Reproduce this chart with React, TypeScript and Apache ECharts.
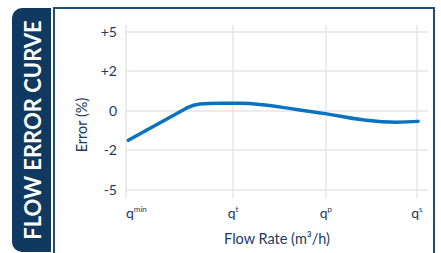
import React, { useEffect, useRef } from "react";
import * as echarts from "echarts";

// x positions of the flow-rate ticks (qmin = 0, qs = 100)
const xTickValues = [0, 36.8, 68.7, 100];
const xTickSubs = ["min", "t", "p", "s"];
// y axis: evenly spaced tick slots with non-linear labels
const yTickValues = [0, 1, 2, 3, 4];
const yTickLabels = ["-5", "-2", "0", "+2", "+5"];
// error curve (x in flow units, y in tick-slot units)
// straight rising part, qmin to the knee
const riseX = [0.8, 20.9];
const riseY = [1.24, 2.06];
// smooth part, from the knee to qs
const curveX = [20.9, 25.4, 32.3, 39.2, 47.1, 58.7, 69.0, 81.4, 93.0, 100.4];
const curveY = [2.06, 2.16, 2.18, 2.18, 2.14, 2.02, 1.91, 1.76, 1.70, 1.72];

const TITLE = "FLOW ERROR CURVE";
const Y_NAME = "Error (%)";
const X_NAME = "Flow Rate (m³/h)";

const NAVY = "#1d3b5f";
const LINE = "#0a72c0";
const FONT = "Lato, 'Open Sans', sans-serif";

export default function App() {
  const ref = useRef<HTMLDivElement>(null);
  useEffect(() => {
    if (!ref.current) return;
    const chart = echarts.init(ref.current, undefined, { renderer: "svg" });
    const rise = riseX.map((x, i) => [x, riseY[i]]);
    const curve = curveX.map((x, i) => [x, curveY[i]]);
    chart.setOption({
      animation: false,
      textStyle: { fontFamily: FONT },
      grid: { left: 126, right: 13, top: 25, bottom: 55, containLabel: false },
      xAxis: {
        type: "value",
        min: 0,
        max: 103.8,
        axisLine: { show: false },
        axisTick: { show: false },
        splitLine: { show: false },
        axisLabel: {
          customValues: xTickValues,
          margin: 7,
          alignMinLabel: "left",
          formatter: (v: number) => {
            const i = xTickValues.findIndex((t) => Math.abs(t - v) < 0.01);
            return i < 0 ? "" : "{q|q}{s|" + xTickSubs[i] + "}";
          },
          rich: {
            q: { fontSize: 14, color: NAVY, fontFamily: FONT, verticalAlign: "bottom" },
            s: { fontSize: 8, color: NAVY, fontFamily: FONT, verticalAlign: "top", padding: [0, 0, 6, 0] },
          },
        },
        name: X_NAME,
        nameLocation: "middle",
        nameGap: 33,
        nameTextStyle: { fontSize: 14.5, color: NAVY, fontFamily: FONT },
      },
      yAxis: {
        type: "value",
        min: -0.22,
        max: 4.16,
        axisLine: { show: false },
        axisTick: { show: false },
        splitLine: { show: false },
        axisLabel: {
          customValues: yTickValues,
          margin: 9,
          fontSize: 14,
          color: NAVY,
          fontFamily: FONT,
          formatter: (v: number) => {
            const i = yTickValues.findIndex((t) => Math.abs(t - v) < 0.01);
            return i < 0 ? "" : yTickLabels[i];
          },
        },
      },
      graphic: [
        {
          type: "rect",
          shape: { x: 54, y: 8, width: 380, height: 260 },
          style: { fill: "none", stroke: "#1f4c7a", lineWidth: 2 },
          silent: true,
        },
        {
          type: "rect",
          shape: { x: 12, y: 8, width: 39, height: 244, r: [10, 0, 0, 10] },
          style: { fill: "#0f3961" },
          silent: true,
        },
        {
          type: "text",
          x: 32,
          y: 130,
          rotation: Math.PI / 2,
          style: {
            text: TITLE,
            fill: "#ffffff",
            font: "bold 22px " + FONT,
            align: "center",
            verticalAlign: "middle",
          },
          silent: true,
        },
        {
          type: "text",
          x: 81,
          y: 125,
          rotation: Math.PI / 2,
          style: {
            text: Y_NAME,
            fill: NAVY,
            font: "14.5px " + FONT,
            align: "center",
            verticalAlign: "middle",
          },
          silent: true,
        },
      ],
      series: [
        {
          type: "line",
          data: rise,
          smooth: false,
          showSymbol: false,
          symbol: "none",
          lineStyle: { color: LINE, width: 3.5, cap: "round" },
          z: 5,
          markLine: {
            silent: true,
            symbol: "none",
            label: { show: false },
            lineStyle: { color: "#e6e6e6", width: 1.5, type: "solid" },
            data: [
              ...xTickValues.map((v) => ({ xAxis: v })),
              ...yTickValues.map((v) => ({ yAxis: v })),
            ],
            z: 1,
          },
        },
        {
          type: "line",
          data: curve,
          smooth: 0.45,
          showSymbol: false,
          symbol: "none",
          lineStyle: { color: LINE, width: 3.5, cap: "round" },
          z: 5,
        },
      ],
    });
    return () => chart.dispose();
  }, []);
  return <div ref={ref} style={{ width: 441, height: 253, position: "absolute", left: 0, top: 0 }} />;
}
